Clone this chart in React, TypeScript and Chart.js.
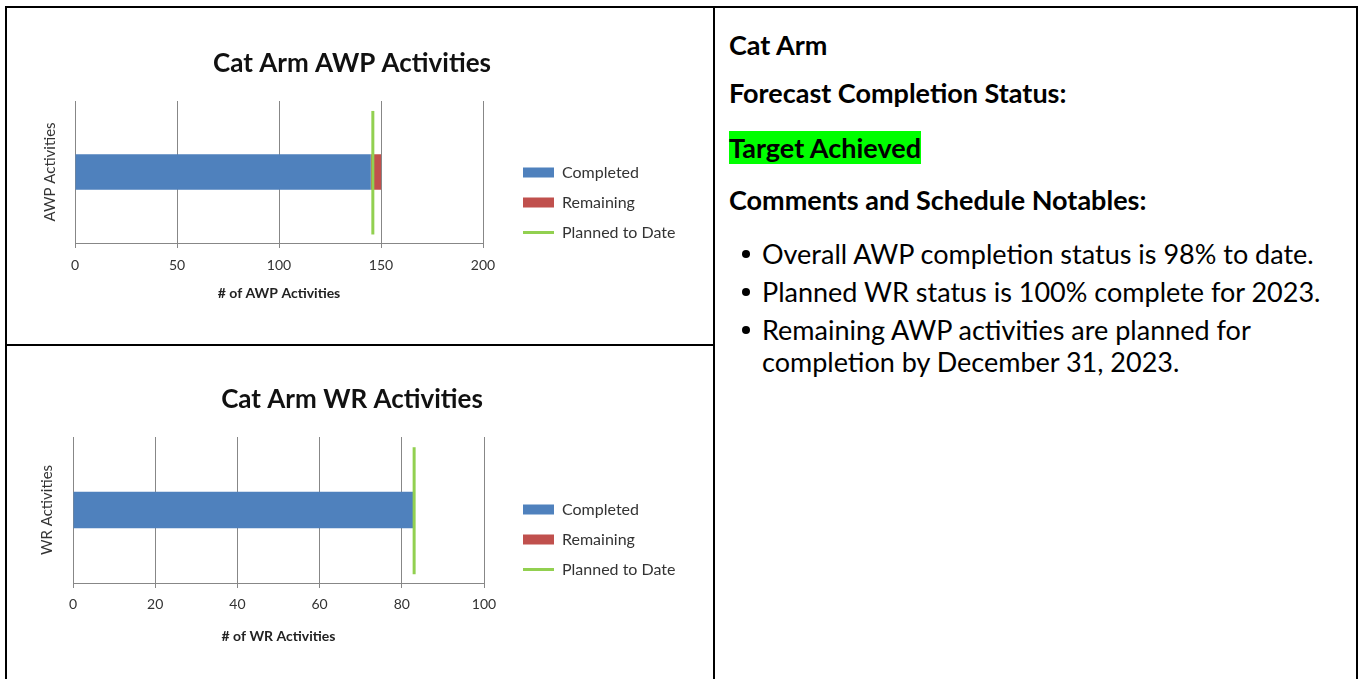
import React, { useEffect, useRef } from 'react';
import { Chart, registerables } from 'chart.js';

Chart.register(...registerables);

const FONT = 'Lato';
Chart.defaults.font.family = FONT;
Chart.defaults.color = '#333';

// ---- shared series ----
const seriesNames = ['Completed', 'Remaining', 'Planned to Date'];
const seriesColors = ['#4F81BD', '#C0504D', '#92D050'];
const plannedSpan = [0.06, 0.93]; // vertical extent of the planned marker on a 0..1 helper axis

// ---- AWP chart ----
const awpTitle = 'Cat Arm AWP Activities';
const awpXTitle = '# of AWP Activities';
const awpCategories = ['AWP Activities'];
const awpCompleted = [145];
const awpRemaining = [5];
const awpPlanned = [146];
const awpAxisMax = 200;
const awpTickStep = 50;

// ---- WR chart ----
const wrTitle = 'Cat Arm WR Activities';
const wrXTitle = '# of WR Activities';
const wrCategories = ['WR Activities'];
const wrCompleted = [83];
const wrRemaining = [0];
const wrPlanned = [83];
const wrAxisMax = 100;
const wrTickStep = 20;

// ---- right panel text ----
const panelSite = 'Cat Arm';
const panelStatusLabel = 'Forecast Completion Status:';
const panelStatus = 'Target Achieved';
const panelCommentsLabel = 'Comments and Schedule Notables:';
const panelBullets = [
  ['Overall AWP completion status is 98% to date.'],
  ['Planned WR status is 100% complete for 2023.'],
  ['Remaining AWP activities are planned for', 'completion by December 31, 2023.'],
];

type Spec = {
  title: string; xTitle: string; categories: string[];
  completed: number[]; remaining: number[]; planned: number[];
  max: number; step: number;
};
type Frame = {
  left: number; top: number; W: number; H: number;
  titleCX: number; titleCY: number; plotTop: number; plotBottom: number;
  plotLeft: number; plotRight: number; yTitleCX: number; tickCY: number;
  xTitleCY: number; legendBoxX: number; legendRow1CY: number;
};

const gridColor = '#878787';

function buildConfig(spec: Spec, f: Frame): any {
  const padTop = 10;
  const padRight = 30;
  const padLeft = 2 * f.titleCX - f.W + padRight;
  const titleSize = 26;
  const titleLH = titleSize * 1.2;
  const titlePadTop = f.titleCY - padTop - titleLH / 2;
  const titlePadBottom = f.plotTop - padTop - titlePadTop - titleLH;
  const yTitleSize = 15;
  const yTitleLH = yTitleSize * 1.2;
  const yTitlePad = f.yTitleCX - padLeft - yTitleLH / 2;
  const yAxisWidth = f.plotLeft - padLeft;
  const tickSize = 14;
  const tickLH = tickSize * 1.2;
  const tickLen = 5;
  const tickPad = f.tickCY - f.plotBottom - tickLen - tickLH / 2;
  const xTitleSize = 14;
  const xTitleLH = xTitleSize * 1.2;
  const xTitlePadBottom = 4;
  const xAxisBottom = f.xTitleCY + xTitleLH / 2 + xTitlePadBottom;
  const xAxisHeight = xAxisBottom - f.plotBottom;
  const padBottom = f.H - xAxisBottom;
  const legPad = 14;
  const legFont = 16;
  const legTitleLH = 10;
  const legendLeft = f.legendBoxX - legPad;
  const legendWidth = f.W - padRight - legendLeft;
  const gap = legendLeft - f.plotRight;
  const legTitlePadTop = f.legendRow1CY - legFont / 2 - legPad - padTop - legTitleLH;

  const legendWidthPlugin = {
    id: 'legendWidthFix',
    beforeLayout(chart: any) {
      const lg = chart.legend;
      if (lg && !lg.__fixed) {
        const fit = lg.fit.bind(lg);
        lg.fit = () => { fit(); lg.width = legendWidth; };
        lg.__fixed = true;
      }
    },
  };

  return {
    type: 'bar',
    data: {
      labels: spec.categories,
      datasets: [
        {
          type: 'bar', label: seriesNames[0], data: spec.completed,
          backgroundColor: seriesColors[0], borderWidth: 0,
          xAxisID: 'x', yAxisID: 'y', indexAxis: 'y',
          barPercentage: 0.25, categoryPercentage: 1, order: 1,
        },
        {
          type: 'bar', label: seriesNames[1], data: spec.remaining,
          backgroundColor: seriesColors[1], borderWidth: 0,
          xAxisID: 'x', yAxisID: 'y', indexAxis: 'y',
          barPercentage: 0.25, categoryPercentage: 1, order: 1,
        },
        {
          type: 'line', label: seriesNames[2],
          data: plannedSpan.map((v) => ({ x: spec.planned[0], y: v })),
          borderColor: seriesColors[2], backgroundColor: seriesColors[2],
          borderWidth: 3, pointRadius: 0, pointBorderWidth: 3, fill: false,
          xAxisID: 'x', yAxisID: 'y2', indexAxis: 'x', order: 0,
        },
      ],
    },
    options: {
      animation: false,
      responsive: false,
      maintainAspectRatio: false,
      layout: { padding: { top: padTop, left: padLeft, right: padRight, bottom: padBottom } },
      plugins: {
        tooltip: { enabled: false },
        title: {
          display: true, text: spec.title, color: '#111', align: 'center',
          font: { size: titleSize, weight: 'bold', family: FONT, lineHeight: 1.2 },
          padding: { top: titlePadTop, bottom: titlePadBottom },
        },
        legend: {
          display: true, position: 'right', align: 'start', fullSize: true,
          title: { display: true, text: '', font: { size: 10, lineHeight: 1 }, padding: { top: legTitlePadTop, bottom: 0 } },
          labels: {
            font: { size: legFont, family: FONT },
            color: '#333',
            usePointStyle: true,
            pointStyleWidth: 31,
            boxHeight: 10,
            padding: legPad,
            sort: (a: any, b: any) => a.datasetIndex - b.datasetIndex,
            generateLabels: (chart: any) => {
              const items = (Chart.defaults.plugins.legend.labels as any).generateLabels(chart);
              return items.map((it: any) =>
                it.datasetIndex === 2
                  ? { ...it, pointStyle: 'line', lineWidth: 3, strokeStyle: seriesColors[2], fillStyle: seriesColors[2] }
                  : { ...it, pointStyle: 'rect', lineWidth: 0 });
            },
          },
        },
      },
      scales: {
        x: {
          type: 'linear', position: 'bottom', min: 0, max: spec.max, stacked: true, offset: false,
          ticks: { stepSize: spec.step, color: '#333', padding: tickPad, maxRotation: 0, font: { size: tickSize, family: FONT, lineHeight: 1.2 } },
          grid: { display: true, offset: false, color: gridColor, lineWidth: 1, drawTicks: true, tickLength: tickLen },
          border: { display: true, color: gridColor, width: 1 },
          title: {
            display: true, text: spec.xTitle, color: '#222',
            font: { size: xTitleSize, weight: 'bold', family: FONT, lineHeight: 1.2 },
            padding: { top: 0, bottom: xTitlePadBottom },
          },
          afterFit: (s: any) => { s.height = xAxisHeight; },
        },
        y: {
          type: 'category', position: 'left', stacked: true, offset: true,
          grid: { display: false, offset: true },
          border: { display: true, color: gridColor, width: 1 },
          ticks: { display: false },
          title: {
            display: true, text: spec.categories[0], color: '#333',
            font: { size: yTitleSize, family: FONT, lineHeight: 1.2 },
            padding: { top: yTitlePad, bottom: 0 },
          },
          afterFit: (s: any) => { s.width = yAxisWidth; },
        },
        y2: {
          type: 'linear', axis: 'y', position: 'right', min: 0, max: 1, display: true, offset: false,
          grid: { display: false }, border: { display: false }, ticks: { display: false },
          afterFit: (s: any) => { s.width = gap; },
        },
      },
    },
    plugins: [legendWidthPlugin],
  };
}

function ChartPanel({ spec, frame }: { spec: Spec; frame: Frame }) {
  const ref = useRef<HTMLCanvasElement>(null);
  useEffect(() => {
    const canvas = ref.current;
    if (!canvas) return;
    const chart = new Chart(canvas, buildConfig(spec, frame));
    let alive = true;
    Promise.all([
      document.fonts.load(`bold 26px ${FONT}`),
      document.fonts.load(`16px ${FONT}`),
    ]).then(() => { if (alive) chart.update(); }).catch(() => {});
    return () => { alive = false; chart.destroy(); };
  }, []);
  return (
    <canvas
      ref={ref}
      width={frame.W}
      height={frame.H}
      style={{ position: 'absolute', left: frame.left, top: frame.top, width: frame.W, height: frame.H }}
    />
  );
}

const awpSpec: Spec = {
  title: awpTitle, xTitle: awpXTitle, categories: awpCategories,
  completed: awpCompleted, remaining: awpRemaining, planned: awpPlanned,
  max: awpAxisMax, step: awpTickStep,
};
const wrSpec: Spec = {
  title: wrTitle, xTitle: wrXTitle, categories: wrCategories,
  completed: wrCompleted, remaining: wrRemaining, planned: wrPlanned,
  max: wrAxisMax, step: wrTickStep,
};

const awpFrame: Frame = {
  left: 7, top: 8, W: 706, H: 336,
  titleCX: 345, titleCY: 56, plotTop: 93, plotBottom: 235, plotLeft: 68, plotRight: 476,
  yTitleCX: 43, tickCY: 257, xTitleCY: 285, legendBoxX: 516, legendRow1CY: 164.5,
};
const wrFrame: Frame = {
  left: 7, top: 346, W: 706, H: 333,
  titleCX: 345, titleCY: 54, plotTop: 91, plotBottom: 237, plotLeft: 66, plotRight: 477,
  yTitleCX: 40, tickCY: 258, xTitleCY: 290, legendBoxX: 516, legendRow1CY: 163.5,
};

const line = (l: number, t: number, w: number, h: number) => (
  <div style={{ position: 'absolute', left: l, top: t, width: w, height: h, background: '#000' }} />
);

export default function App() {
  useEffect(() => { document.body.style.overflow = 'hidden'; }, []);
  const head = (text: React.ReactNode, cy: number) => (
    <div style={{ position: 'absolute', left: 729, top: cy - 16, lineHeight: '32px', fontSize: 27, fontWeight: 700, color: '#000', whiteSpace: 'nowrap' }}>{text}</div>
  );
  const bulletCY = [254, 292, 330];
  return (
    <div style={{ position: 'absolute', left: 0, top: 0, width: 1363, height: 679, overflow: 'hidden', background: '#fff', fontFamily: FONT }}>
      {line(5, 6, 1353, 2)}
      {line(5, 6, 2, 673)}
      {line(713, 6, 2, 673)}
      {line(1356, 6, 2, 673)}
      {line(5, 344, 710, 2)}
      <ChartPanel spec={awpSpec} frame={awpFrame} />
      <ChartPanel spec={wrSpec} frame={wrFrame} />
      {head(panelSite, 45)}
      {head(panelStatusLabel, 93)}
      {head(<span style={{ background: '#00FF00' }}>{panelStatus}</span>, 148)}
      {head(panelCommentsLabel, 200)}
      {panelBullets.map((lines, i) => (
        <React.Fragment key={i}>
          <div style={{ position: 'absolute', left: 742, top: bulletCY[i] - 4, width: 8, height: 8, borderRadius: 4, background: '#000' }} />
          <div style={{ position: 'absolute', left: 762, top: bulletCY[i] - 16, lineHeight: '32px', fontSize: 27, color: '#000', whiteSpace: 'nowrap' }}>
            {lines.map((t, j) => (
              <React.Fragment key={j}>{j > 0 && <br />}{t}</React.Fragment>
            ))}
          </div>
        </React.Fragment>
      ))}
    </div>
  );
}
